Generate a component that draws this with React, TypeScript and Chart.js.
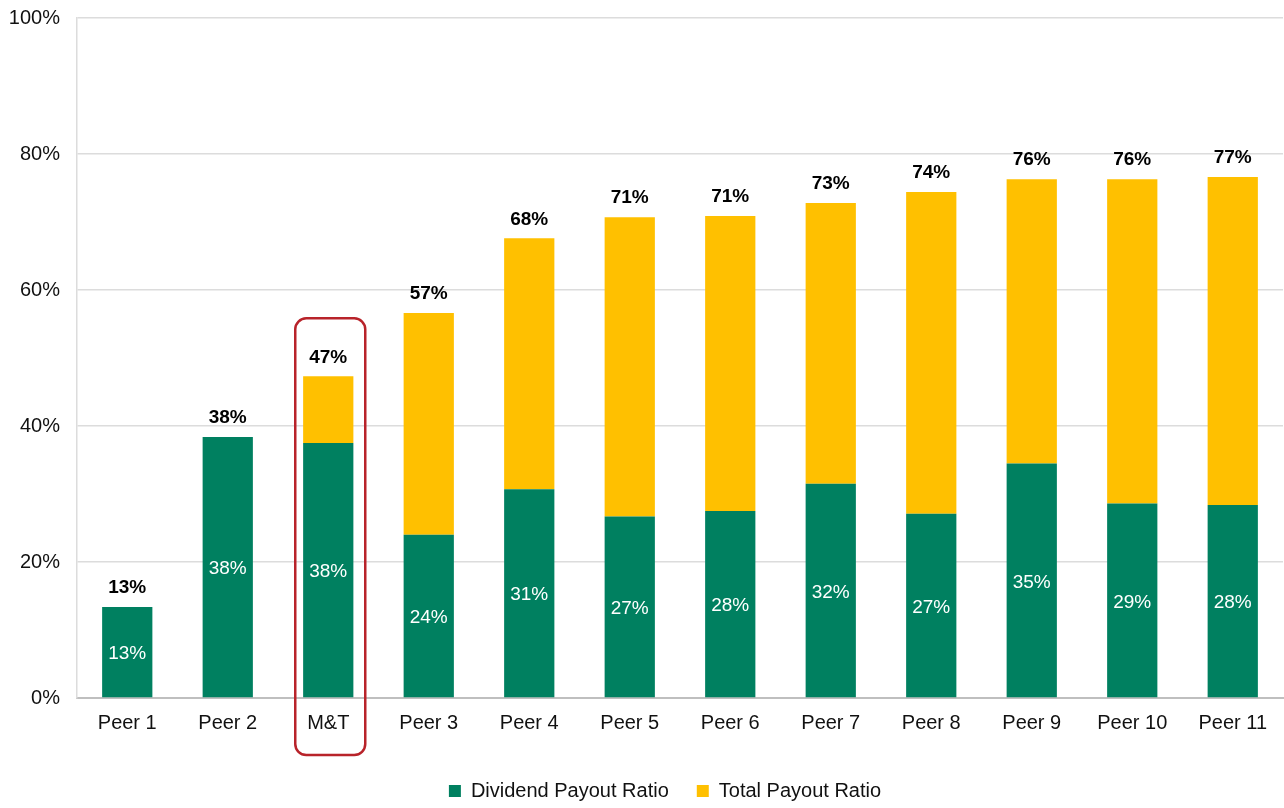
import React, { useEffect, useRef } from "react";
import { Chart, registerables } from "chart.js";

Chart.register(...registerables);

const categories = ["Peer 1", "Peer 2", "M&T", "Peer 3", "Peer 4", "Peer 5", "Peer 6", "Peer 7", "Peer 8", "Peer 9", "Peer 10", "Peer 11"];
const dividendPayout = [13.4, 38.4, 37.5, 24.0, 30.7, 26.7, 27.5, 31.5, 27.1, 34.5, 28.6, 28.4];
const totalPayout = [13.4, 38.4, 47.3, 56.6, 67.6, 70.7, 70.9, 72.8, 74.4, 76.3, 76.3, 76.6];
const dividendLabels = ["13%", "38%", "38%", "24%", "31%", "27%", "28%", "32%", "27%", "35%", "29%", "28%"];
const totalLabels = ["13%", "38%", "47%", "57%", "68%", "71%", "71%", "73%", "74%", "76%", "76%", "77%"];
const seriesNames = ["Dividend Payout Ratio", "Total Payout Ratio"];
const highlightCategory = "M&T";

const GREEN = "#008060";
const YELLOW = "#FFC000";
const FONT = "'Liberation Sans', Arial, sans-serif";

const labelPlugin = {
  id: "payoutLabels",
  afterLayout(chart: any) {
    const lg = chart.legend;
    if (lg) {
      lg.left -= 15;
      lg.right -= 15;
    }
  },
  afterDatasetsDraw(chart: any) {
    const ctx = chart.ctx;
    const meta = chart.getDatasetMeta(0);
    const yScale = chart.scales.y;
    ctx.save();
    ctx.textAlign = "center";
    ctx.textBaseline = "middle";
    meta.data.forEach((bar: any, i: number) => {
      ctx.font = `19px ${FONT}`;
      ctx.fillStyle = "#FFFFFF";
      ctx.fillText(dividendLabels[i], bar.x, (bar.y + bar.base) / 2 + 2);
      const top = yScale.getPixelForValue(totalPayout[i]);
      ctx.font = `bold 19px ${FONT}`;
      ctx.fillStyle = "#000000";
      ctx.fillText(totalLabels[i], bar.x, top - 19);
    });
    ctx.restore();
  },
  afterDraw(chart: any) {
    const idx = categories.indexOf(highlightCategory);
    if (idx < 0) return;
    const ctx = chart.ctx;
    const xScale = chart.scales.x;
    const yScale = chart.scales.y;
    const cx = xScale.getPixelForValue(idx) + 2;
    const left = cx - 35;
    const right = cx + 35;
    const top = yScale.getPixelForValue(totalPayout[idx]) - 58;
    const bottom = chart.chartArea.bottom + 57;
    const r = 11;
    ctx.save();
    ctx.strokeStyle = "#B8232A";
    ctx.lineWidth = 2.5;
    ctx.beginPath();
    ctx.moveTo(left + r, top);
    ctx.lineTo(right - r, top);
    ctx.arcTo(right, top, right, top + r, r);
    ctx.lineTo(right, bottom - r);
    ctx.arcTo(right, bottom, right - r, bottom, r);
    ctx.lineTo(left + r, bottom);
    ctx.arcTo(left, bottom, left, bottom - r, r);
    ctx.lineTo(left, top + r);
    ctx.arcTo(left, top, left + r, top, r);
    ctx.closePath();
    ctx.stroke();
    ctx.restore();
  },
};

export default function App() {
  const canvasRef = useRef<HTMLCanvasElement | null>(null);

  useEffect(() => {
    if (!canvasRef.current) return;
    const remainder = totalPayout.map((t, i) => Math.max(0, +(t - dividendPayout[i]).toFixed(2)));
    const chart = new Chart(canvasRef.current, {
      type: "bar",
      data: {
        labels: categories,
        datasets: [
          {
            label: seriesNames[0],
            data: dividendPayout,
            backgroundColor: GREEN,
            borderWidth: 0,
            barPercentage: 0.5,
            categoryPercentage: 1,
          },
          {
            label: seriesNames[1],
            data: remainder,
            backgroundColor: YELLOW,
            borderWidth: 0,
            barPercentage: 0.5,
            categoryPercentage: 1,
          },
        ],
      },
      options: {
        responsive: false,
        animation: false,
        devicePixelRatio: 1,
        layout: { padding: { top: 18, right: 1, left: 0, bottom: -3 } },
        plugins: {
          legend: {
            display: true,
            position: "bottom",
            fullSize: false,
            labels: {
              font: { family: FONT, size: 20 },
              color: "#111111",
              boxWidth: 12,
              boxHeight: 12,
              padding: 28,
            },
          },
          tooltip: { enabled: false },
        },
        scales: {
          x: {
            stacked: true,
            grid: { display: false, drawTicks: false },
            border: { display: true, color: "#BFBFBF", width: 2 },
            ticks: {
              font: { family: FONT, size: 20 },
              color: "#111111",
              padding: 13,
            },
            afterFit: (s: any) => {
              s.height = 55;
            },
          },
          y: {
            stacked: true,
            min: 0,
            max: 100,
            grid: { color: "#DCDCDC", lineWidth: 1.5, drawTicks: false },
            border: { display: true, color: "#DCDCDC", width: 1.5 },
            ticks: {
              stepSize: 20,
              font: { family: FONT, size: 20 },
              color: "#111111",
              padding: 17,
              callback: (v: any) => `${v}%`,
            },
            afterFit: (s: any) => {
              s.width = 77;
              s.paddingTop = 0;
              s.paddingBottom = 0;
            },
          },
        },
      },
      plugins: [labelPlugin],
    });
    return () => chart.destroy();
  }, []);

  return (
    <div style={{ position: "fixed", left: 0, top: 0, width: 1284, height: 808, background: "#fff" }}>
      <canvas ref={canvasRef} width={1284} height={808} />
    </div>
  );
}
